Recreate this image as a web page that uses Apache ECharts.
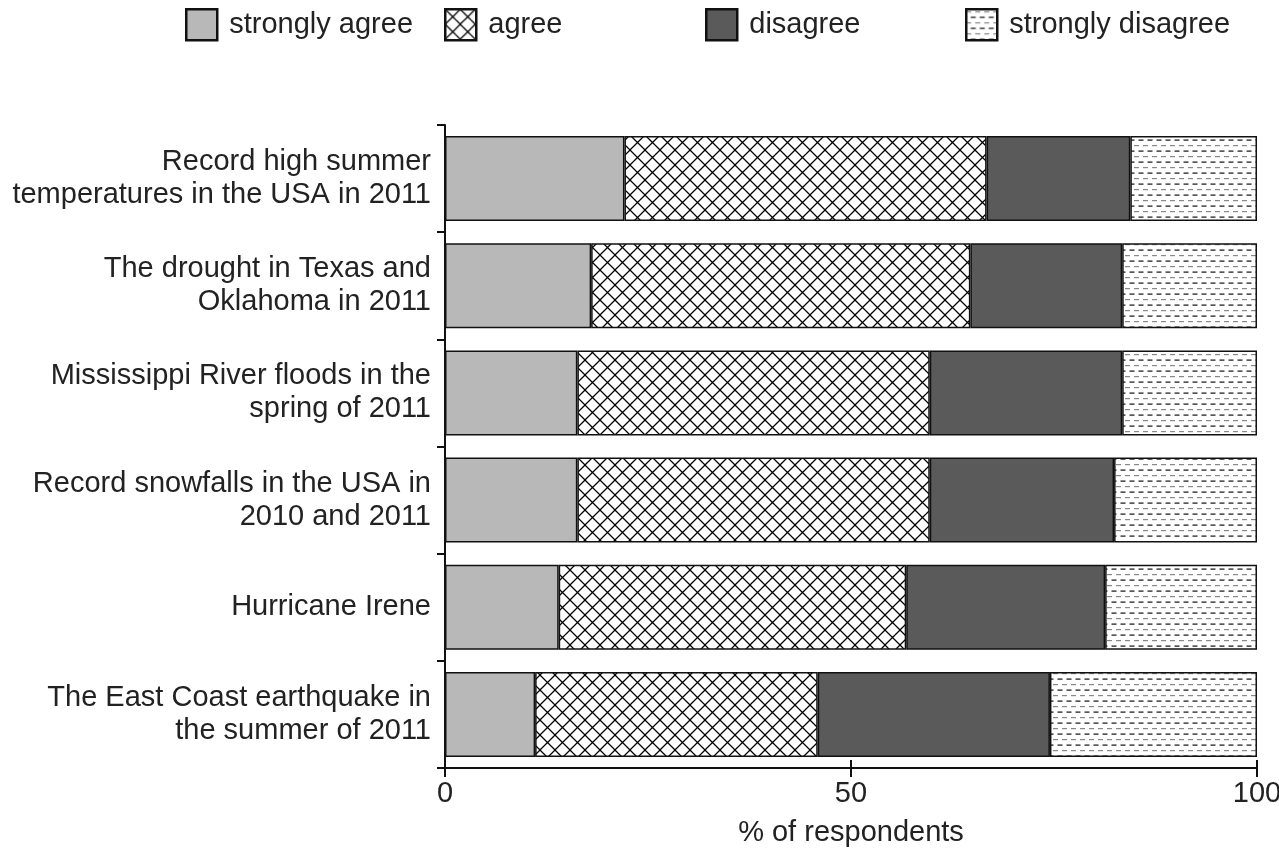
<!DOCTYPE html>
<html>
<head>
<meta charset="utf-8">
<script src="https://cdn.jsdelivr.net/npm/echarts@6/dist/echarts.min.js"></script>
<style>
html,body{margin:0;padding:0;background:#fff;overflow:hidden;}
#chart{width:1279px;height:852px;}
</style>
</head>
<body>
<div id="chart"></div>
<script>
var categories = [
  "Record high summer\ntemperatures in the USA in 2011",
  "The drought in Texas and\nOklahoma in 2011",
  "Mississippi River floods in the\nspring of 2011",
  "Record snowfalls in the USA in\n2010 and 2011",
  "Hurricane Irene",
  "The East Coast earthquake in\nthe summer of 2011"
];
var seriesNames = ["strongly agree", "agree", "disagree", "strongly disagree"];
var stronglyAgree = [22.1, 18.0, 16.3, 16.3, 14.0, 11.1];
var agree = [44.6, 46.7, 43.4, 43.4, 42.8, 34.8];
var disagree = [17.7, 18.7, 23.7, 22.7, 24.5, 28.6];
var stronglyDisagree = [15.6, 16.6, 16.6, 17.6, 18.7, 25.5];
var xTicks = [0, 50, 100];

function crossPattern() {
  var c = document.createElement('canvas');
  var s = 15;
  c.width = s; c.height = s;
  var g = c.getContext('2d');
  g.fillStyle = '#fff'; g.fillRect(0, 0, s, s);
  g.strokeStyle = '#000'; g.lineWidth = 1.25;
  g.beginPath();
  g.moveTo(0, 0); g.lineTo(s, s);
  g.moveTo(s, 0); g.lineTo(0, s);
  g.stroke();
  return c;
}
function dashPattern() {
  var c = document.createElement('canvas');
  c.width = 9; c.height = 11;
  var g = c.getContext('2d');
  g.fillStyle = '#fff'; g.fillRect(0, 0, 9, 11);
  g.fillStyle = '#888'; g.fillRect(0, 2, 5, 1.2);
  g.fillStyle = '#111'; g.fillRect(4.5, 7.5, 4.5, 1.2);
  g.fillRect(0, 7.5, 0.5, 1.2);
  return c;
}
var fills = [
  '#b8b8b8',
  {image: crossPattern(), repeat: 'repeat'},
  '#5a5a5a',
  {image: dashPattern(), repeat: 'repeat'}
];
var dataSets = [stronglyAgree, agree, disagree, stronglyDisagree];
var FONT = '"Liberation Sans", Arial, sans-serif';
var FS = 29;
var legendLefts = [185, 444, 705, 965];

var chart = echarts.init(document.getElementById('chart'));
var option = {
  backgroundColor: '#fff',
  animation: false,
  textStyle: {fontFamily: FONT},
  legend: seriesNames.map(function (n, i) {
    return {
      data: [n], left: legendLefts[i], top: 8, padding: 0,
      itemWidth: 31, itemHeight: 31, itemGap: 0,
      icon: 'rect',
      itemStyle: {borderColor: '#111', borderWidth: 2.5},
      textStyle: {fontSize: FS, color: '#222', fontFamily: FONT, padding: [0, 0, 0, 7]},
      selectedMode: false
    };
  }),
  grid: {left: 445, right: 22, top: 125, bottom: 84, containLabel: false, outerBoundsMode: 'none'},
  xAxis: [{
    type: 'value', min: 0, max: 100, interval: 50,
    position: 'bottom',
    name: '% of respondents', nameLocation: 'middle', nameGap: 50,
    nameTextStyle: {fontSize: FS, color: '#222', fontFamily: FONT},
    axisLine: {show: true, lineStyle: {color: '#111', width: 2}},
    axisTick: {show: true, length: 9, lineStyle: {color: '#111', width: 2}},
    axisLabel: {fontSize: FS, color: '#222', margin: 11, fontFamily: FONT,
      formatter: function (v) { return xTicks.indexOf(v) >= 0 ? String(v) : ''; }},
    splitLine: {show: false}
  }, {
    type: 'value', min: 0, max: 100, interval: 50,
    position: 'bottom',
    axisLine: {show: false},
    axisTick: {show: true, inside: true, length: 8, lineStyle: {color: '#111', width: 2}},
    axisLabel: {show: false},
    splitLine: {show: false}
  }],
  yAxis: {
    type: 'category', data: categories, inverse: true,
    axisLine: {show: true, lineStyle: {color: '#111', width: 2}},
    axisTick: {show: true, length: 8, lineStyle: {color: '#111', width: 2}},
    axisLabel: {fontSize: FS, color: '#222', margin: 14, lineHeight: 33, align: 'right', fontFamily: FONT}
  },
  series: seriesNames.map(function (n, i) {
    return {
      name: n, type: 'bar', stack: 'total', xAxisIndex: 0,
      barWidth: 85,
      data: dataSets[i],
      itemStyle: {color: fills[i], borderColor: '#111', borderWidth: 1.5},
      emphasis: {disabled: true}
    };
  })
};
chart.setOption(option);
</script>
</body>
</html>
